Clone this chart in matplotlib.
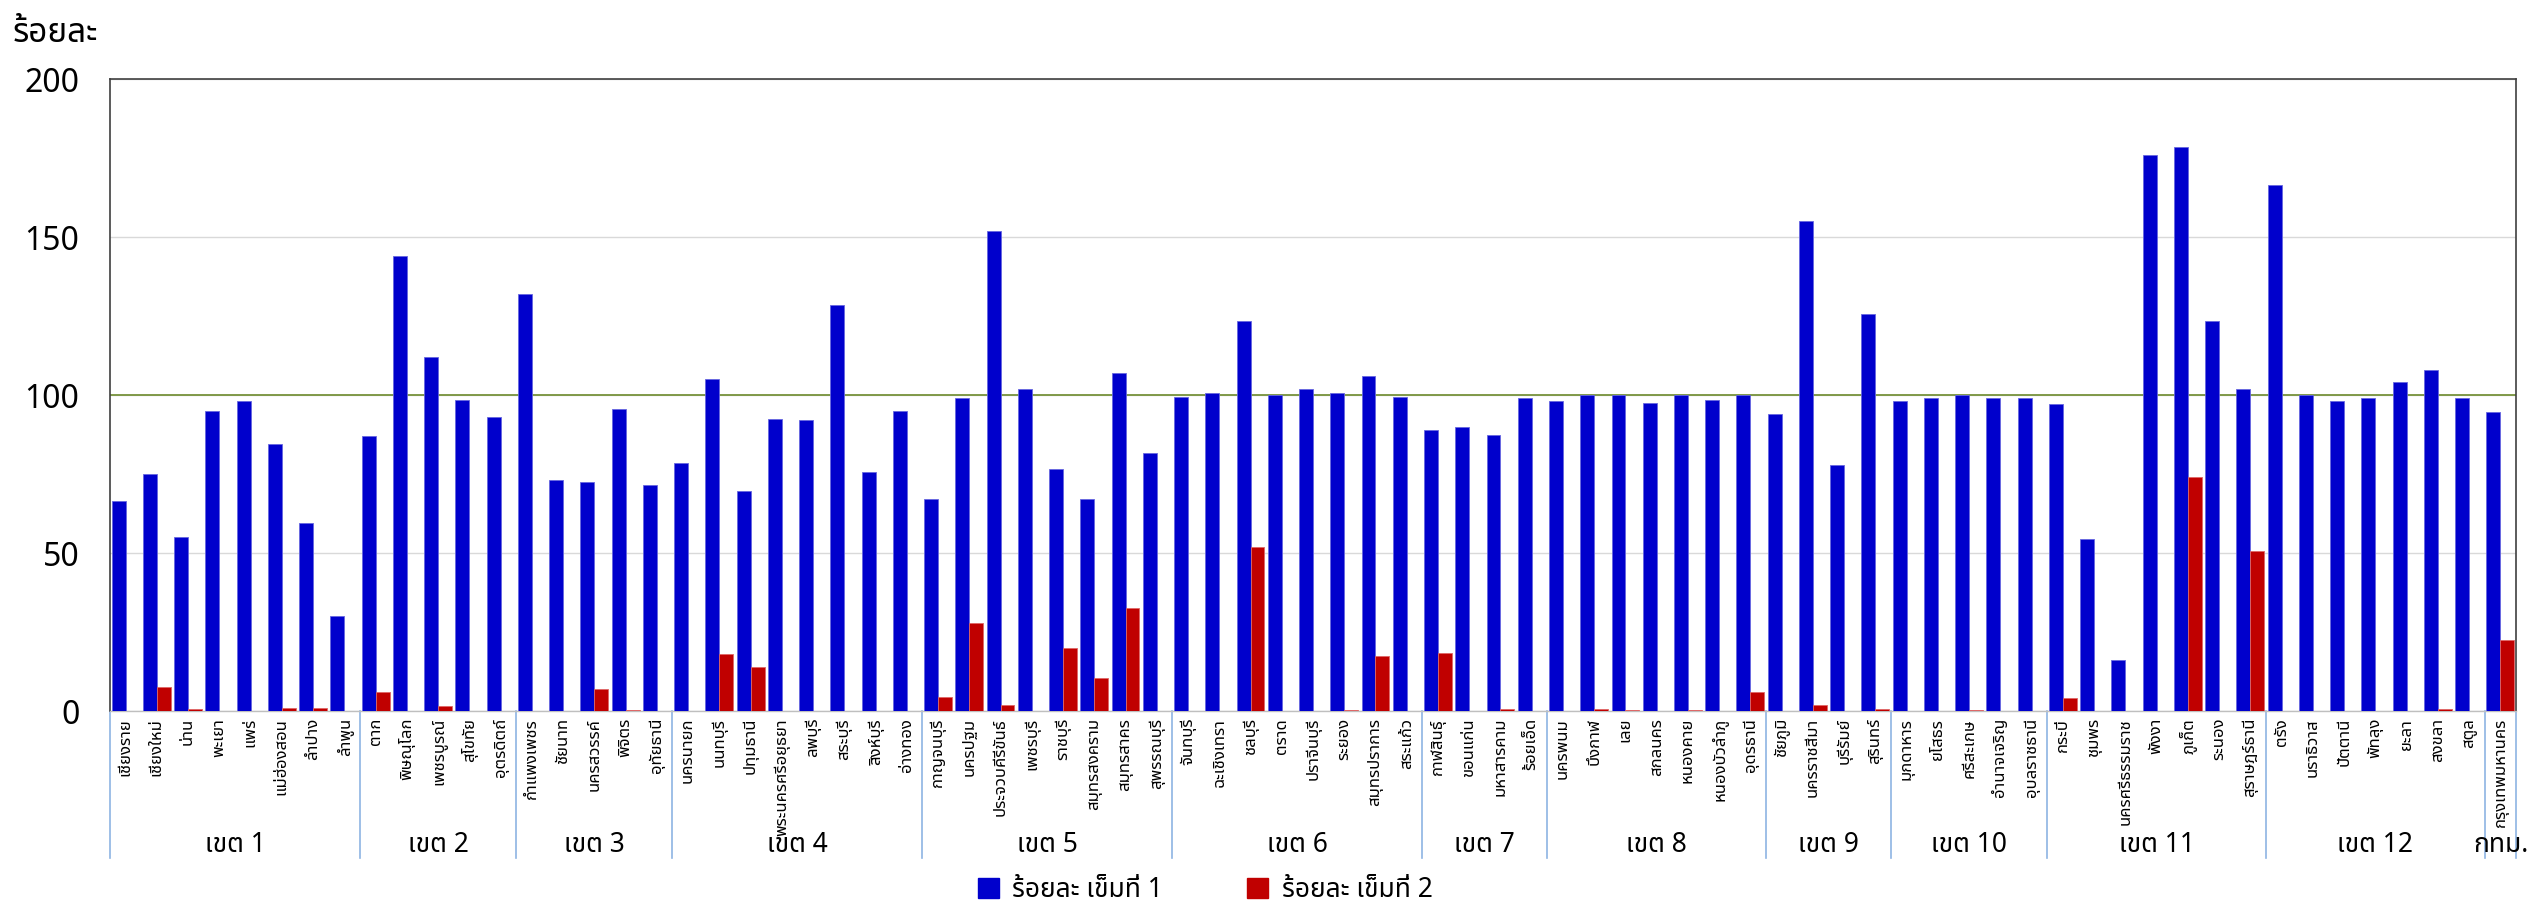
import matplotlib
matplotlib.use("Agg")
import matplotlib.pyplot as plt
import matplotlib.font_manager as fm
from matplotlib.ft2font import FT2Font
from matplotlib.patches import Patch
import matplotlib.transforms as mtransforms
import numpy as np

# ---------------- data ----------------
regions = ["เขต 1", "เขต 2", "เขต 3", "เขต 4", "เขต 5", "เขต 6",
           "เขต 7", "เขต 8", "เขต 9", "เขต 10", "เขต 11", "เขต 12", "กทม."]

provinces = [
    # เขต 1
    "เชียงราย", "เชียงใหม่", "น่าน", "พะเยา", "แพร่", "แม่ฮ่องสอน", "ลำปาง", "ลำพูน",
    # เขต 2
    "ตาก", "พิษณุโลก", "เพชรบูรณ์", "สุโขทัย", "อุตรดิตถ์",
    # เขต 3
    "กำแพงเพชร", "ชัยนาท", "นครสวรรค์", "พิจิตร", "อุทัยธานี",
    # เขต 4
    "นครนายก", "นนทบุรี", "ปทุมธานี", "พระนครศรีอยุธยา", "ลพบุรี", "สระบุรี", "สิงห์บุรี", "อ่างทอง",
    # เขต 5
    "กาญจนบุรี", "นครปฐม", "ประจวบคีรีขันธ์", "เพชรบุรี", "ราชบุรี", "สมุทรสงคราม", "สมุทรสาคร", "สุพรรณบุรี",
    # เขต 6
    "จันทบุรี", "ฉะเชิงเทรา", "ชลบุรี", "ตราด", "ปราจีนบุรี", "ระยอง", "สมุทรปราการ", "สระแก้ว",
    # เขต 7
    "กาฬสินธุ์", "ขอนแก่น", "มหาสารคาม", "ร้อยเอ็ด",
    # เขต 8
    "นครพนม", "บึงกาฬ", "เลย", "สกลนคร", "หนองคาย", "หนองบัวลำภู", "อุดรธานี",
    # เขต 9
    "ชัยภูมิ", "นครราชสีมา", "บุรีรัมย์", "สุรินทร์",
    # เขต 10
    "มุกดาหาร", "ยโสธร", "ศรีสะเกษ", "อำนาจเจริญ", "อุบลราชธานี",
    # เขต 11
    "กระบี่", "ชุมพร", "นครศรีธรรมราช", "พังงา", "ภูเก็ต", "ระนอง", "สุราษฎร์ธานี",
    # เขต 12
    "ตรัง", "นราธิวาส", "ปัตตานี", "พัทลุง", "ยะลา", "สงขลา", "สตูล",
    # กทม.
    "กรุงเทพมหานคร",
]

region_sizes = [8, 5, 5, 8, 8, 8, 4, 7, 4, 5, 7, 7, 1]

dose1 = [
    66.5, 75, 55, 95, 98, 84.5, 59.5, 30,
    87, 144, 112, 98.5, 93,
    132, 73, 72.5, 95.5, 71.5,
    78.5, 105, 69.5, 92.5, 92, 128.5, 75.5, 95,
    67, 99, 152, 102, 76.5, 67, 107, 81.5,
    99.5, 100.5, 123.5, 100, 102, 100.5, 106, 99.5,
    89, 90, 87.5, 99,
    98, 100, 100, 97.5, 100, 98.5, 100,
    94, 155, 78, 125.5,
    98, 99, 100, 99, 99,
    97, 54.5, 16, 176, 178.5, 123.5, 102,
    166.5, 100, 98, 99, 104, 108, 99,
    94.5,
]

dose2 = [
    0, 7.5, 0.5, 0, 0, 1, 1, 0,
    6, 0, 1.5, 0, 0,
    0, 0, 7, 0.3, 0,
    0, 18, 14, 0, 0, 0, 0, 0,
    4.5, 28, 2, 0, 20, 10.5, 32.5, 0,
    0, 0, 52, 0, 0, 0.3, 17.5, 0,
    18.5, 0, 0.5, 0,
    0, 0.5, 0.3, 0, 0.3, 0, 6,
    0, 2, 0, 0.5,
    0, 0, 0.3, 0, 0,
    4, 0, 0, 0, 74, 0, 50.5,
    0, 0, 0, 0, 0, 0.5, 0,
    22.5,
]

series_names = ["ร้อยละ เข็มที่ 1", "ร้อยละ เข็มที่ 2"]
y_ticks = [0, 50, 100, 150, 200]
target = 100

# ---------------- font ----------------
def find_thai_font():
    preferred = ["Tahoma", "Noto Sans Thai", "Noto Sans Thai UI", "Loma", "Garuda",
                 "TH Sarabun New", "Sarabun", "Norasi", "Kinnari", "Waree", "Umpush"]
    found = {}
    for f in fm.fontManager.ttflist:
        try:
            ft = FT2Font(f.fname)
            cmap = ft.get_charmap()
            if 0x0E01 in cmap and 0x0E40 in cmap:
                found.setdefault(f.name, f.fname)
        except Exception:
            pass
    for p in preferred:
        if p in found:
            return p
    if found:
        return sorted(found)[0]
    return None

thai = find_thai_font()
families = ([thai] if thai else []) + ["DejaVu Sans"]
plt.rcParams["font.family"] = families

# ---------------- figure ----------------
W, H = 2542, 908
fig = plt.figure(figsize=(W / 100, H / 100), dpi=100)
ax_left, ax_right = 110 / W, 2516 / W
ax_bottom, ax_top = 1 - 711 / H, 1 - 79 / H
ax = fig.add_axes([ax_left, ax_bottom, ax_right - ax_left, ax_top - ax_bottom])

n = len(provinces)
x = np.arange(n)
bw = 0.447
blue = "#0000CC"
red = "#C00000"
ax.bar(x - bw / 2, dose1, width=bw, color=blue, edgecolor="#6666E0", linewidth=0.6, zorder=3)
ax.bar(x + bw / 2, dose2, width=bw, color=red, edgecolor="#E06666", linewidth=0.6, zorder=3)

ax.set_xlim(-0.5, n - 0.5)
ax.set_ylim(0, 200)
ax.set_yticks(y_ticks)
ax.set_yticklabels([str(v) for v in y_ticks], fontsize=23, color="#000000")
ax.tick_params(axis="y", length=0, pad=22)
ax.yaxis.grid(True, color="#D9D9D9", linewidth=1.0, zorder=0)
ax.set_axisbelow(True)
ax.axhline(target, color="#77933C", linewidth=1.3, zorder=2)

ax.set_xticks(x)
ax.set_xticklabels(provinces, rotation=90, fontsize=12, va="top", ha="center")
ax.tick_params(axis="x", length=0, pad=5)

for side in ["left", "right", "top"]:
    ax.spines[side].set_color("#404040")
    ax.spines[side].set_linewidth(1.2)
ax.spines["bottom"].set_color("#BFBFBF")
ax.spines["bottom"].set_linewidth(1.0)

# group separators and labels
trans = mtransforms.blended_transform_factory(ax.transData, ax.transAxes)
sep_bottom = -(858 - 711) / (711 - 79)
lab_y = -(845 - 711) / (711 - 79)
bounds = np.concatenate([[0], np.cumsum(region_sizes)]) - 0.5
for b in bounds:
    ax.plot([b, b], [0, sep_bottom], transform=trans, color="#8EB4E3",
            linewidth=1.2, clip_on=False, zorder=1)
for i, name in enumerate(regions):
    mid = (bounds[i] + bounds[i + 1]) / 2
    ax.text(mid, lab_y, name, transform=trans, ha="center", va="center",
            fontsize=19, color="#000000")

# y-axis title
fig.text(13 / W, 1 - 34 / H, "ร้อยละ", fontsize=24, ha="left", va="center")

# legend
handles = [Patch(facecolor=blue, edgecolor=blue), Patch(facecolor=red, edgecolor=red)]
fig.legend(handles, series_names, loc="center", bbox_to_anchor=(1205 / W, 1 - 890 / H),
           ncol=2, frameon=False, fontsize=19, handlelength=0.8, handleheight=0.8,
           handletextpad=0.5, columnspacing=3.2, borderaxespad=0, borderpad=0)

fig.savefig("out.png", dpi=100)
